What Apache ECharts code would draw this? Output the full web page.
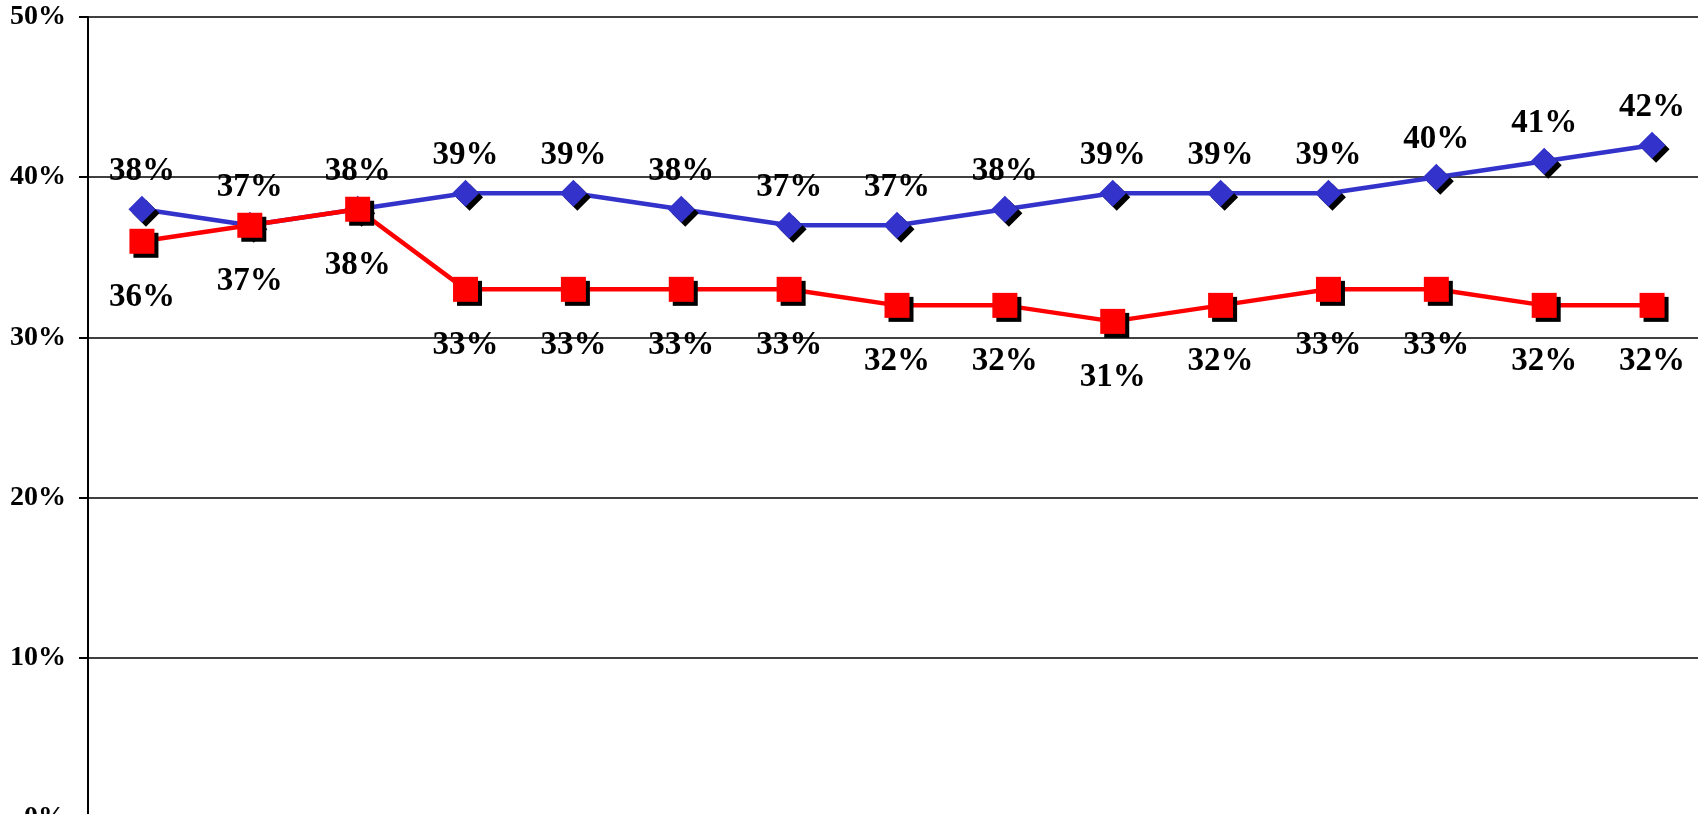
<!DOCTYPE html>
<html>
<head>
<meta charset="utf-8">
<script src="https://cdn.jsdelivr.net/npm/echarts@6/dist/echarts.min.js"></script>
<style>
  html, body { margin: 0; padding: 0; background: #fff; overflow: hidden; }
  /* chart is larger than the window so the plot area runs off the bottom/right edge */
  #chart { width: 1720px; height: 840px; }
</style>
</head>
<body>
<div id="chart"></div>
<script>
// 15 periods, no visible category labels
var categories = ['1', '2', '3', '4', '5', '6', '7', '8', '9', '10', '11', '12', '13', '14', '15']
// blue diamond series (%)
var blueValues = [38, 37, 38, 39, 39, 38, 37, 37, 38, 39, 39, 39, 40, 41, 42]
// red square series (%)
var redValues = [36, 37, 38, 33, 33, 33, 33, 32, 32, 31, 32, 33, 33, 32, 32]
// y axis ticks
var yTicks = [0, 10, 20, 30, 40, 50]

var serifFont = '"Liberation Serif", "Times New Roman", Times, serif'

var myChart = echarts.init(document.getElementById('chart'))
var myOption = {
  animation: false,
  grid: {
    left: 88,
    top: 17,
    right: 14,
    bottom: 22,
    containLabel: false
  },
  xAxis: {
    type: 'category',
    boundaryGap: true,
    data: categories,
    axisLine: { show: false },
    axisTick: { show: false },
    axisLabel: { show: false }
  },
  yAxis: {
    type: 'value',
    min: yTicks[0],
    max: yTicks[yTicks.length - 1],
    interval: 10,
    axisLine: {
      show: true,
      lineStyle: { color: '#000', width: 2 }
    },
    axisTick: {
      show: true,
      inside: false,
      length: 9,
      lineStyle: { color: '#000', width: 2 }
    },
    axisLabel: {
      margin: 22,
      color: '#000',
      fontFamily: serifFont,
      fontWeight: 'bold',
      fontSize: 28,
      formatter: '{value}%'
    },
    splitLine: {
      show: true,
      lineStyle: { color: '#000', width: 1.5 }
    }
  },
  series: [{
    name: 'blue',
    type: 'line',
    data: blueValues,
    symbol: 'diamond',
    symbolSize: 27,
    lineStyle: { color: '#3333CC', width: 4.5 },
    itemStyle: {
      color: '#3333CC',
      shadowColor: '#000',
      shadowBlur: 0,
      shadowOffsetX: 4,
      shadowOffsetY: 4
    },
    label: {
      show: true,
      position: 'top',
      distance: 8,
      color: '#000',
      fontFamily: serifFont,
      fontWeight: 'bold',
      fontSize: 33,
      formatter: '{c}%'
    },
    z: 2
  }, {
    name: 'red',
    type: 'line',
    data: redValues,
    symbol: 'rect',
    symbolSize: 25,
    lineStyle: { color: '#FF0000', width: 4.5 },
    itemStyle: {
      color: '#FF0000',
      shadowColor: '#000',
      shadowBlur: 0,
      shadowOffsetX: 4,
      shadowOffsetY: 4
    },
    label: {
      show: true,
      position: 'bottom',
      distance: 27,
      color: '#000',
      fontFamily: serifFont,
      fontWeight: 'bold',
      fontSize: 33,
      formatter: '{c}%'
    },
    z: 3
  }]
}
myChart.setOption(myOption)
</script>
</body>
</html>
